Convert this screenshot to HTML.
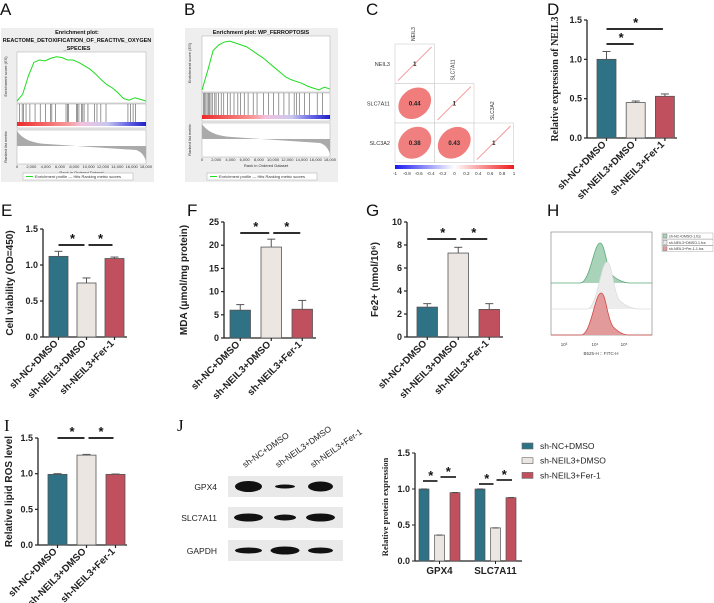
<!DOCTYPE html>
<html><head><meta charset="utf-8">
<style>
html,body{margin:0;padding:0;background:#fff;}
svg{display:block;font-family:"Liberation Sans",Arial,sans-serif;}
.pl{font-size:17px;fill:#111;}
.tk{font-size:9px;font-weight:bold;fill:#222;}
.xl{font-size:9.8px;font-weight:bold;fill:#222;}
.yl{font-size:10px;font-weight:bold;fill:#222;}
.st{font-size:13px;font-weight:bold;fill:#111;}
.sm{font-size:4px;fill:#333;}
</style></head>
<body>
<svg id="fig" width="714" height="603" viewBox="0 0 714 603">
<text class="pl" x="0" y="15">A</text>
<text class="pl" x="184" y="15">B</text>
<text class="pl" x="366" y="15">C</text>
<text class="pl" x="547" y="15">D</text>
<text class="pl" x="1" y="216">E</text>
<text class="pl" x="187" y="216">F</text>
<text class="pl" x="366" y="216">G</text>
<text class="pl" x="547" y="216">H</text>
<text class="pl" x="4" y="431" style="font-family:'Liberation Serif',serif">I</text>
<text class="pl" x="177" y="431" style="font-family:'Liberation Serif',serif">J</text>
<g id="root"></g>
</svg>
<script>
// ---- data ----
var groups = ["sh-NC+DMSO","sh-NEIL3+DMSO","sh-NEIL3+Fer-1"];
var colors = ["#2f7185","#ece6e3","#c0505e"];
var dVals = [1.0,0.45,0.53], dErr = [0.1,0.02,0.03];
var dTicks = [0,0.5,1.0,1.5], dTickLabels = ["0.0","0.5","1.0","1.5"];
var eVals = [1.12,0.75,1.09], eErr = [0.07,0.07,0.02];
var eTicks = [0,0.5,1.0,1.5], eTickLabels = ["0.0","0.5","1.0","1.5"];
var fVals = [6.0,19.6,6.2], fErr = [1.2,1.7,1.9];
var fTicks = [0,5,10,15,20,25], fTickLabels = ["0","5","10","15","20","25"];
var gVals = [2.6,7.3,2.4], gErr = [0.3,0.5,0.5];
var gTicks = [0,2,4,6,8,10], gTickLabels = ["0","2","4","6","8","10"];
var iVals = [0.99,1.26,0.99], iErr = [0.01,0.01,0.005];
var iTicks = [0,0.5,1.0,1.5], iTickLabels = ["0.0","0.5","1.0","1.5"];
var jCats = ["GPX4","SLC7A11"];
var jGpx4 = [1.0,0.36,0.95], jSlc = [1.0,0.46,0.88];
var jTicks = [0,0.5,1.0,1.5], jTickLabels = ["0.0","0.5","1.0","1.5"];
var esA = [0,0.08,0.3,0.47,0.5,0.49,0.52,0.54,0.53,0.5,0.5,0.47,0.43,0.39,0.33,0.26,0.2,0.16,0.1,0.03,0.01,0.04,0.02,0];
var esB = [0,0.2,0.42,0.48,0.51,0.52,0.5,0.48,0.46,0.42,0.38,0.34,0.29,0.24,0.19,0.14,0.11,0.09,0.07,0.04,0.02,0.0,0.03,0.01];
var hitsA = [0.02,0.04,0.05,0.07,0.1,0.14,0.18,0.22,0.26,0.27,0.3,0.38,0.39,0.4,0.46,0.47,0.48,0.5,0.51,0.52,0.55,0.6,0.62,0.65,0.69,0.86,0.88,0.9,0.92];
var hitsB = [0.01,0.02,0.03,0.04,0.05,0.06,0.07,0.08,0.1,0.11,0.13,0.15,0.17,0.2,0.22,0.25,0.28,0.3,0.33,0.36,0.4,0.43,0.48,0.52,0.56,0.6,0.64,0.68,0.72,0.74,0.76,0.8,0.84,0.9,0.94];
var rankTicks = ["0","2,000","4,000","6,000","8,000","10,000","12,000","14,000","16,000","18,000"];
var corrLabels = ["NEIL3","SLC7A11","SLC3A2"];
var corrVals = [[1],[0.44,1],[0.38,0.43,1]];
var cbTicks = ["-1","-0.8","-0.6","-0.4","-0.2","0","0.2","0.4","0.6","0.8","1"];
var hTicks = ["10\u00b3","10\u2074","10\u2075"];

var NS="http://www.w3.org/2000/svg";
var root=document.getElementById('root');
function el(tag,attrs,parent,txt){var e=document.createElementNS(NS,tag);for(var k in attrs)e.setAttribute(k,attrs[k]);if(txt!==undefined)e.textContent=txt;(parent||root).appendChild(e);return e;}

function barChart(c,vals,errs,ticks,tlabs,ylabel,sigs){
  var g=el('g',{});
  
  
  var max=ticks[ticks.length-1];
  function Y(v){return c.yb-(v/max)*(c.yb-c.yt);}
  function X(i){return c.x1+i*c.step;}
  var ax=el('line',{x1:c.ax,y1:c.yt,x2:c.ax,y2:c.yb,stroke:'#222','stroke-width':1.3},g);
  
  
  var xa=el('line',{x1:c.ax,y1:c.yb,x2:c.xe,y2:c.yb,stroke:'#222','stroke-width':1.3},g);
  
  
  ticks.forEach(function(t,k){
    el('line',{x1:c.ax-3,y1:Y(t),x2:c.ax,y2:Y(t),stroke:'#222','stroke-width':1.2},g);
    var tl=el('text',{x:c.ax-5,y:Y(t)+3,'text-anchor':'end','class':'tk'},g,tlabs[k]);
    
    
  });
  vals.forEach(function(v,i){
    var x=X(i);
    el('line',{x1:x+c.bw/2,y1:Y(v),x2:x+c.bw/2,y2:Y(v+errs[i]),stroke:'#555','stroke-width':1},g);
    el('line',{x1:x+c.bw/2-4,y1:Y(v+errs[i]),x2:x+c.bw/2+4,y2:Y(v+errs[i]),stroke:'#555','stroke-width':1},g);
    var b=el('rect',{x:x,y:Y(v),width:c.bw,height:c.yb-Y(v),fill:colors[i],stroke:'#555','stroke-width':0.8},g);
    
    
    el('line',{x1:x+c.bw/2,y1:c.yb,x2:x+c.bw/2,y2:c.yb+3,stroke:'#222','stroke-width':1.2},g);
    var cx=x+c.bw/2, cy=c.yb+7;
    var t=el('text',{x:cx,y:cy,'text-anchor':'end','class':'xl',transform:'rotate(-45 '+cx+' '+cy+')'},g,groups[i]);
    
    
  });
  var yx=c.ylx, yy=(c.yt+c.yb)/2;
  var yl=el('text',{x:yx,y:yy,'text-anchor':'middle','class':'yl',transform:'rotate(-90 '+yx+' '+yy+')',style:c.serif?"font-family:'Liberation Serif',serif":""},g,ylabel);
  
  
  sigs.forEach(function(s){
    var x1=X(s[0])+c.bw/2, x2=X(s[1])+c.bw/2;
    var l=el('line',{x1:x1+(s[0]>0?2:0),y1:s[2],x2:x2-2,y2:s[2],stroke:'#111','stroke-width':1.8},g);
    
    
    el('text',{x:(x1+x2)/2,y:s[2]-2,'text-anchor':'middle','class':'st'},g,'*');
  });
}
barChart({name:'chart-d-neil3-expression',ax:587,xe:677,yt:20,yb:138,x1:597,step:29.2,bw:19,ylx:558,serif:true},dVals,dErr,dTicks,dTickLabels,'Relative expression of NEIL3',[[0,2,29],[0,1,44]]);
barChart({name:'chart-e-cell-viability',ax:43,xe:127,yt:229,yb:337,x1:49,step:28,bw:19,ylx:13},eVals,eErr,eTicks,eTickLabels,'Cell viability (OD=450)',[[0,1,245],[1,2,245]]);
barChart({name:'chart-f-mda',ax:224,xe:316,yt:222,yb:338,x1:230,step:31,bw:20.5,ylx:187},fVals,fErr,fTicks,fTickLabels,'MDA (\u03bcmol/mg protein)',[[0,1,233],[1,2,233]]);
barChart({name:'chart-g-fe2',ax:407,xe:503,yt:222,yb:337,x1:417,step:31,bw:20.5,ylx:378},gVals,gErr,gTicks,gTickLabels,'Fe2+ (nmol/10\u2076)',[[0,1,239],[1,2,239]]);
barChart({name:'chart-i-lipid-ros',ax:38,xe:127,yt:438,yb:545,x1:48,step:29,bw:19,ylx:12},iVals,iErr,iTicks,iTickLabels,'Relative lipid ROS level',[[0,1,438],[1,2,438]]);

// ---- J bar chart ----
(function(){
  var g=el('g',{});
  
  
  var ax=415,yt=453,yb=561,max=1.5;
  function Y(v){return yb-(v/max)*(yb-yt);}
  el('line',{x1:ax,y1:yt,x2:ax,y2:yb,stroke:'#222','stroke-width':1.3},g);
  el('line',{x1:ax,y1:yb,x2:522,y2:yb,stroke:'#222','stroke-width':1.3},g);
  jTicks.forEach(function(t,k){
    el('line',{x1:ax-3,y1:Y(t),x2:ax,y2:Y(t),stroke:'#222'},g);
    el('text',{x:ax-5,y:Y(t)+3,'text-anchor':'end','class':'tk'},g,jTickLabels[k]);
  });
  var sets=[jGpx4,jSlc], gx=[419,475];
  sets.forEach(function(vals,gi){
    vals.forEach(function(v,i){
      var x=gx[gi]+i*15.5;
      var b=el('rect',{x:x,y:Y(v),width:10,height:yb-Y(v),fill:colors[i],stroke:'#555','stroke-width':0.7},g);
      
      
      el('line',{x1:x+2,y1:Y(v),x2:x+8,y2:Y(v),stroke:'#444','stroke-width':1},g);
    });
    var cx=gx[gi]+20.5;
    el('line',{x1:cx,y1:yb,x2:cx,y2:yb+3,stroke:'#222'},g);
    var t=el('text',{x:cx,y:yb+13,'text-anchor':'middle','class':'xl'},g,jCats[gi]);
    
    
    var a1=gx[gi]+5,a2=gx[gi]+20.5,a3=gx[gi]+36;
    var ly = gi===0?481:484;
    el('line',{x1:a1-1,y1:ly,x2:a2-2,y2:ly,stroke:'#111','stroke-width':1.6},g);
    el('line',{x1:a2+1,y1:ly-4,x2:a3+1,y2:ly-4,stroke:'#111','stroke-width':1.6},g);
    el('text',{x:(a1+a2)/2-1,y:ly-1,'text-anchor':'middle','class':'st'},g,'*');
    el('text',{x:(a2+a3)/2+1,y:ly-5,'text-anchor':'middle','class':'st'},g,'*');
  });
  var yl=el('text',{x:388,y:507,'text-anchor':'middle','class':'yl',style:"font-family:'Liberation Serif',serif;font-size:8.5px",transform:'rotate(-90 388 507)'},g,'Relative protein expression');
  
  
  groups.forEach(function(n,i){
    var y=443+i*14.7;
    el('rect',{x:522,y:y,width:11,height:6,fill:colors[i],stroke:'#666','stroke-width':0.6},g);
    var t=el('text',{x:540,y:y+6,'font-size':'8.5px',fill:'#222'},g,n);
    
    
  });
})();

// ---- J western blot ----
(function(){
  var g=el('g',{});
  
  
  var rows=['GPX4','SLC7A11','GAPDH'], ry=[476,507,540];
  var bandH=[[11,4,10],[8,6,8],[6,8,6]];
  var bandW=[[27,20,25],[29,22,29],[27,29,25]];
  rows.forEach(function(r,i){
    el('rect',{x:228,y:ry[i],width:115,height:21,fill:'#e9e9e9'},g);
    var t=el('text',{x:217,y:ry[i]+14,'text-anchor':'end','font-size':'8.5px',fill:'#222'},g,r);
    
    
    [248.5,285,320.5].forEach(function(cx,k){
      el('ellipse',{cx:cx,cy:ry[i]+10.5,rx:bandW[i][k]/2,ry:bandH[i][k]/2,fill:'#111'},g);
    });
  });
  [245,278,313].forEach(function(cx,k){
    var t=el('text',{x:cx,y:468,'font-size':'8.5px',fill:'#222',transform:'rotate(-35 '+cx+' 468)'},g,groups[k]);
    
    
  });
})();

// ---- GSEA panels ----
function gsea(o,es,hits,title){
  var g=el('g',{});
  
  
  el('rect',{x:o.bx,y:28,width:153,height:154,fill:'#eeeeee'},g);
  title.forEach(function(t,k){el('text',{x:o.bx+76,y:34+k*8,'text-anchor':'middle','font-size':'5.5px','font-weight':'bold',fill:'#111'},g,t);});
  var x0=o.px,x1=o.px+o.pw;
  el('rect',{x:x0,y:o.esTop,width:o.pw,height:o.zero-o.esTop+2,fill:'#fff',stroke:'#999','stroke-width':0.4},g);
  var pts=es.map(function(v,i){return (x0+i*o.pw/(es.length-1))+','+(o.zero-v*o.sc);}).join(' ');
  var pl=el('polyline',{points:pts,fill:'none',stroke:'#1fdc1f','stroke-width':1},g);
  
  
  var hy=o.zero+3;
  el('rect',{x:x0,y:hy,width:o.pw,height:o.hitH,fill:'#fff',stroke:'#999','stroke-width':0.4},g);
  hits.forEach(function(h){el('line',{x1:x0+h*o.pw,y1:hy,x2:x0+h*o.pw,y2:hy+o.hitH-6,stroke:'#555','stroke-width':0.6},g);});
  var gr=el('linearGradient',{id:'gr'+o.name,x1:0,x2:1,y1:0,y2:0},g);
  [['0','#ee2a2a'],['0.4','#f79a9a'],['0.5','#f2c2e0'],['0.7','#c8c8ee'],['0.85','#6a6ae6'],['1','#2020c8']].forEach(function(s){el('stop',{offset:s[0],'stop-color':s[1]},gr);});
  el('rect',{x:x0,y:hy+o.hitH-6,width:o.pw,height:4,fill:'url(#gr'+o.name+')'},g);
  var ry=hy+o.hitH+2;
  el('rect',{x:x0,y:ry,width:o.pw,height:34,fill:'#fff',stroke:'#999','stroke-width':0.4},g);
  el('path',{d:'M'+x0+' '+(ry+1)+' Q'+(x0+8)+' '+(ry+13)+' '+(x0+30)+' '+(ry+14)+' L'+(x1-10)+' '+(ry+20)+' Q'+(x1-3)+' '+(ry+22)+' '+x1+' '+(ry+31)+' L'+x1+' '+(ry+16)+' L'+x0+' '+(ry+16)+'Z',fill:'#aaa'},g);
  rankTicks.forEach(function(t,k){el('text',{x:x0+k*o.pw/9,y:ry+38,'text-anchor':'middle','class':'sm'},g,t);});
  el('text',{x:x0+o.pw/2,y:ry+44,'text-anchor':'middle','class':'sm'},g,'Rank in Ordered Dataset');
  el('text',{x:o.bx+6,y:(o.esTop+o.zero)/2,'text-anchor':'middle','class':'sm',transform:'rotate(-90 '+(o.bx+6)+' '+((o.esTop+o.zero)/2)+')'},g,'Enrichment score (ES)');
  el('text',{x:o.bx+6,y:ry+17,'text-anchor':'middle','class':'sm',transform:'rotate(-90 '+(o.bx+6)+' '+(ry+17)+')'},g,'Ranked list metric');
  el('rect',{x:o.bx+22,y:173,width:110,height:7,fill:'#fff',stroke:'#999','stroke-width':0.4},g);
  el('line',{x1:o.bx+25,y1:176.5,x2:o.bx+32,y2:176.5,stroke:'#1fdc1f'},g);
  el('text',{x:o.bx+34,y:178,'class':'sm'},g,'Enrichment profile  \u2014 Hits     Ranking metric scores');
}
gsea({name:'gsea-plot-a',bx:1,px:17,pw:129,esTop:52,zero:101,sc:82,hitH:24},esA,hitsA,['Enrichment plot:','REACTOME_DETOXIFICATION_OF_REACTIVE_OXYGEN','_SPECIES']);
gsea({name:'gsea-plot-b',bx:185,px:202,pw:128,esTop:36,zero:90,sc:94,hitH:28},esB,hitsB,['Enrichment plot: WP_FERROPTOSIS']);

// ---- C correlation ----
(function(){
  var g=el('g',{});
  
  
  var cx0=395,cy0=44,cs=39.5;
  corrVals.forEach(function(row,i){
    row.forEach(function(v,j){
      var x=cx0+j*cs,y=cy0+i*cs;
      el('rect',{x:x,y:y,width:cs,height:cs,fill:'#fff',stroke:'#ccc','stroke-width':0.6},g);
      if(i===j){
        el('line',{x1:x+3,y1:y+cs-3,x2:x+cs-3,y2:y+3,stroke:'#f08080','stroke-width':0.8},g);
      } else {
        var e=el('ellipse',{cx:x+cs/2,cy:y+cs/2,rx:cs/2-2,ry:(cs/2-2)*(1-v*0.45),fill:'rgb(240,'+Math.round(150-v*60)+','+Math.round(150-v*60)+')',transform:'rotate(-40 '+(x+cs/2)+' '+(y+cs/2)+')'},g);
        
        
      }
      el('text',{x:x+cs/2,y:y+cs/2+2,'text-anchor':'middle','font-size':'6px','font-weight':'bold',fill:'#222'},g,v===1?'1':v.toFixed(2));
    });
    el('text',{x:cx0-5,y:cy0+i*cs+cs/2+2,'text-anchor':'end','font-size':'5.5px',fill:'#333'},g,corrLabels[i]);
    var tx=cx0+i*cs+cs/2, ty=cy0+i*cs-3;
    el('text',{x:tx,y:ty,'font-size':'5px',fill:'#333',transform:'rotate(-90 '+tx+' '+ty+')'},g,corrLabels[i]);
  });
  var gr=el('linearGradient',{id:'cbg',x1:0,x2:1,y1:0,y2:0},g);
  [['0','#1a1aee'],['0.5','#ffffff'],['1','#ee1a1a']].forEach(function(s){el('stop',{offset:s[0],'stop-color':s[1]},gr);});
  el('rect',{x:395,y:165,width:119,height:4,fill:'url(#cbg)'},g);
  cbTicks.forEach(function(t,k){el('text',{x:395+k*11.9,y:175,'text-anchor':'middle','font-size':'4.5px',fill:'#333'},g,t);});
})();

// ---- H flow histogram ----
(function(){
  var g=el('g',{});
  
  
  el('rect',{x:551,y:232,width:101,height:103,fill:'#fff',stroke:'#777','stroke-width':0.6},g);
  function hist(base,px,ph,col,fill,w){
    var d='M551 '+base+' L'+(px-20)+' '+base+' C'+(px-10)+' '+base+' '+(px-6)+' '+(base-ph)+' '+(px)+' '+(base-ph)+' C'+(px+5)+' '+(base-ph)+' '+(px+6)+' '+(base-ph*0.4)+' '+(px+12)+' '+(base-ph*0.2)+' C'+(px+18)+' '+(base-ph*0.05)+' '+(px+w)+' '+base+' '+(px+w+4)+' '+base+' L652 '+base;
    el('path',{d:d,fill:fill,stroke:col,'stroke-width':0.8},g);
  }
  hist(283,600,40,'#5aa77a','#a8d3b8',26);
  hist(309,607,47,'#dddddd','#ececec',28);
  hist(335,601,42,'#d04848','#e39a9a',24);
  [564,595,624].forEach(function(x,k){el('text',{x:x,y:346,'text-anchor':'middle','font-size':'4.5px',fill:'#444'},g,hTicks[k]);});
  el('text',{x:601,y:355,'text-anchor':'middle','font-size':'4.5px',fill:'#444'},g,'B525-H :: FITC-H');
  var lg=[['#a8d3b8','sh-NC+DMSO-1.fcs'],['#ececec','sh-NEIL3+DMSO-1.fcs'],['#e39a9a','sh-NEIL3+Fer-1-1.fcs']];
  lg.forEach(function(l,k){
    var y=233+k*6.3;
    el('rect',{x:662,y:y,width:51,height:6,fill:'#fff',stroke:'#999','stroke-width':0.4},g);
    el('rect',{x:663,y:y+1,width:4,height:4,fill:l[0],stroke:'#666','stroke-width':0.4},g);
    var t=el('text',{x:669,y:y+4.5,'font-size':'3.6px',fill:'#333'},g,l[1]);
    
    
  });
})();
</script>
</body></html>
